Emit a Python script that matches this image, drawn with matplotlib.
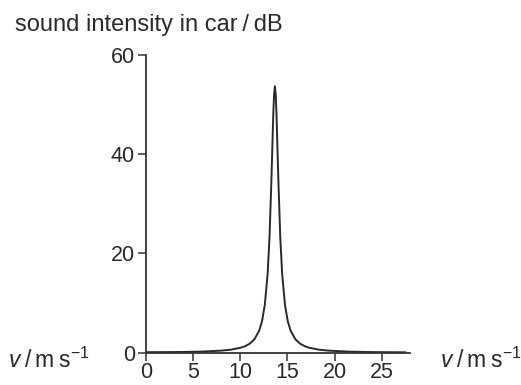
import matplotlib
matplotlib.use("Agg")
import matplotlib.pyplot as plt

plt.rcParams['font.family'] = ['Liberation Sans', 'DejaVu Sans']
plt.rcParams['mathtext.fontset'] = 'custom'
plt.rcParams['mathtext.rm'] = 'Liberation Sans'
plt.rcParams['mathtext.it'] = 'Liberation Sans:italic'

# data
speed = [0, 2, 4, 6, 8, 9, 10, 10.5, 11, 11.5, 12, 12.3, 12.6, 12.9, 13.1, 13.3,
         13.5, 13.58, 13.67, 13.76, 13.84, 14.04, 14.24, 14.44, 14.74, 15.04,
         15.34, 15.84, 16.34, 16.84, 17.34, 18.34, 19.34, 21.34, 23.34, 25.34, 27.5]
intensity = [0.1, 0.12, 0.15, 0.23, 0.42, 0.61, 0.98, 1.3, 1.82, 2.71, 4.42, 6.31,
             9.62, 15.9, 23.3, 34.7, 48.1, 52.0, 53.7, 52.0, 48.1, 34.7, 23.3, 15.9,
             9.62, 6.31, 4.42, 2.71, 1.82, 1.3, 0.98, 0.61, 0.42, 0.23, 0.14, 0.1, 0.08]
x_ticks = [0, 5, 10, 15, 20, 25]
y_ticks = [0, 20, 40, 60]

fig = plt.figure(figsize=(5.21, 3.85), dpi=100)
ax = fig.add_axes([146/521, 1 - 352.7/385, (410 - 146)/521, (352.7 - 55)/385])
ax.plot(speed, intensity, color='#2a2a2a', lw=1.4, solid_joinstyle='round')
ax.set_xlim(0, 28)
ax.set_ylim(0, 60)
ax.set_xticks(x_ticks)
ax.set_yticks(y_ticks)
for s in ['top', 'right']:
    ax.spines[s].set_visible(False)
for s in ['left', 'bottom']:
    ax.spines[s].set_color('#333333')
    ax.spines[s].set_linewidth(1.3)
ax.tick_params(axis='both', direction='out', length=6, width=1.1, color='#333333',
               labelsize=15.5, labelcolor='#2a2a2a')
ax.tick_params(axis='x', pad=1)
ax.tick_params(axis='y', pad=2)

fig.text(15/521, 1 - 31.5/385, 'sound intensity in car\u2009/\u2009dB', fontsize=17,
         color='#2a2a2a', ha='left', va='baseline')
vlabel = r'$v$' + '\u2009/\u2009m\u2009s' + r'$^{-1}$'
fig.text(8/521, 1 - 368/385, vlabel, fontsize=16.5, color='#2a2a2a',
         ha='left', va='baseline')
fig.text(440/521, 1 - 368/385, vlabel, fontsize=16.5, color='#2a2a2a',
         ha='left', va='baseline')

fig.savefig('out.png', dpi=100)
